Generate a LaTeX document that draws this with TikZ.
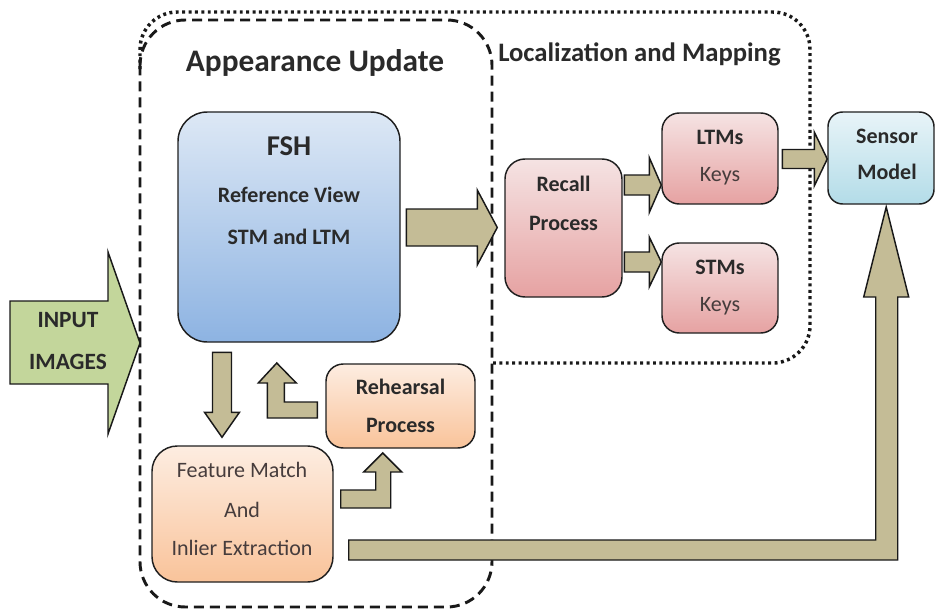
\documentclass[tikz,border=0pt]{standalone}
\usepackage{fontspec}
\setmainfont{Carlito}
\usetikzlibrary{calc}
\definecolor{fshTop}{HTML}{DDE8F5}
\definecolor{fshBot}{HTML}{8DB3E2}
\definecolor{recTop}{HTML}{F5E3E3}
\definecolor{recBot}{HTML}{E6A2A2}
\definecolor{orTop}{HTML}{FDEDE1}
\definecolor{orBot}{HTML}{F9C39A}
\definecolor{senTop}{HTML}{E8F4F8}
\definecolor{senBot}{HTML}{B3DCE8}
\definecolor{tanfill}{HTML}{C4BC96}
\definecolor{inGreen}{HTML}{C3D69B}
\definecolor{tc}{HTML}{2A2A2A}
\definecolor{tcl}{HTML}{463C3C}
\newcommand{\rblock}[5]{% tip, total length, head length, body half, head half
  \draw[blk] (#1) -- ++(-#3,-#5) -- ++(0,{#5-#4}) -- ++({-(#2-#3)},0) -- ++(0,{2*#4}) -- ++({#2-#3},0) -- ++(0,{#5-#4}) -- cycle;}
\newcommand{\dblock}[5]{% tip, total length, head length, body half, head half
  \draw[blk] (#1) -- ++(-#5,-#3) -- ++({#5-#4},0) -- ++(0,{-(#2-#3)}) -- ++({2*#4},0) -- ++(0,{#2-#3}) -- ++({#5-#4},0) -- cycle;}
\begin{document}
\begin{tikzpicture}[x=0.75pt,y=-0.75pt,
  box/.style={draw=black!88, line width=1.1pt, inner sep=0pt},
  blk/.style={sharp corners, draw=black!90, line width=1.1pt, fill=tanfill, line join=miter},
  tb/.style={font=\fontsize{16.5}{19}\selectfont\bfseries, text=tc, anchor=base, inner sep=0pt},
  tr/.style={font=\fontsize{16.5}{19}\selectfont, text=tcl, anchor=base, inner sep=0pt},
  ttl/.style={font=\fontsize{23.5}{27}\selectfont\bfseries, text=tc, anchor=base, inner sep=0pt},
  groupdash/.style={line width=2.2pt, dash pattern=on 7.5pt off 4.5pt, draw=black!90},
  groupdot/.style={line width=2.6pt, dash pattern=on 2.2pt off 2.6pt, draw=black!90}]
\useasboundingbox (0,0) rectangle (936,610);

% group outlines
\draw[groupdot, rounded corners=28pt] (493,363) -- (810,363) -- (810,12) -- (140,12) -- (140,70);
\draw[groupdash, rounded corners=34pt] (140,20) rectangle (492,607);
\node[ttl] (tApp) at (315,72) {Appearance Update};
\node[font=\fontsize{20}{24}\selectfont\bfseries, text=tc, anchor=base west, inner sep=0pt] (tLoc) at (498,62) {Localization and Mapping};

% boxes
\node[box, rounded corners=22pt, top color=fshTop, bottom color=fshBot, minimum width=166.5pt, minimum height=172.5pt] (fsh) at (289,227) {};
\node[box, rounded corners=15pt, top color=recTop, bottom color=recBot, minimum width=87.75pt, minimum height=103.5pt] (recall) at (563.5,228) {};
\node[box, rounded corners=13pt, top color=recTop, bottom color=recBot, minimum width=87pt, minimum height=68.25pt] (ltm) at (720,158.5) {};
\node[box, rounded corners=13pt, top color=recTop, bottom color=recBot, minimum width=87pt, minimum height=67.5pt] (stm) at (720,288) {};
\node[box, rounded corners=11pt, top color=senTop, bottom color=senBot, minimum width=79.5pt, minimum height=69pt] (sensor) at (881,158) {};
\node[box, rounded corners=19pt, top color=orTop, bottom color=orBot, minimum width=135.75pt, minimum height=102pt] (feat) at (242.5,514) {};
\node[box, rounded corners=13pt, top color=orTop, bottom color=orBot, minimum width=111.75pt, minimum height=63pt] (reh) at (400.5,406) {};

% box texts
\node[tb, font=\fontsize{21.5}{25}\selectfont\bfseries] (tFSH) at (289,156) {FSH};
\node[tb] (tRef) at (289,202) {Reference View};
\node[tb] (tSTM) at (289,244) {STM and LTM};
\node[tb] (tRec1) at (563.5,191) {Recall};
\node[tb] (tRec2) at (563.5,230) {Process};
\node[tb] (tLtm1) at (720,144) {LTMs};
\node[tr] (tLtm2) at (720,181) {Keys};
\node[tb] (tStm1) at (720,274) {STMs};
\node[tr] (tStm2) at (720,311) {Keys};
\node[tb] (tSen1) at (887,143) {Sensor};
\node[tb] (tSen2) at (887,180) {Model};
\node[tb] (tReh1) at (400.5,394) {Rehearsal};
\node[tb] (tReh2) at (400.5,432) {Process};
\node[tr] (tFe1) at (242,477) {Feature Match};
\node[tr] (tFe2) at (242,517) {And};
\node[tr] (tFe3) at (242,555) {Inlier Extraction};

% input arrow
\coordinate (intip) at (140,343);
\draw[sharp corners, draw=black!90, line width=1.1pt, fill=inGreen, line join=miter] (intip) -- ++(-32,-91) -- ++(0,49) -- ++(-98,0) -- ++(0,83) -- ++(98,0) -- ++(0,50) -- cycle;
\node[tb, font=\fontsize{17.5}{20}\selectfont\bfseries] (tIn1) at (68,327) {INPUT};
\node[tb, font=\fontsize{17.5}{20}\selectfont\bfseries] (tIn2) at (68,369) {IMAGES};

% block connectors
\rblock{$(recall.west)+(-7,-0.5)$}{91}{20}{18.5}{37.5}
\rblock{$(ltm.west)+(0,26.5)$}{37}{12}{10}{27.5}
\rblock{$(stm.west)+(0,-26)$}{37}{12}{10}{25}
\rblock{$(sensor.west)+(0,1)$}{45}{13}{9.5}{27}
\dblock{$(feat.north)+(-20.5,-8)$}{85}{25}{9.5}{17.5}

\draw[blk] ($(reh.west)+(-8,-4)$) -- ++(-33,0) -- ++(0,-19) -- ++(12,0) -- ++(-19.5,-20) -- ++(-18.5,20) -- ++(9,0) -- ++(0,35) -- ++(50,0) -- cycle;
\draw[blk] ($(feat.east)+(7,-24)$) -- ++(35,0) -- ++(0,-18) -- ++(-12,0) -- ++(19,-19) -- ++(19,19) -- ++(-11,0) -- ++(0,36) -- ++(-50,0) -- cycle;
\draw[blk] ($(feat.east)+(15,26)$) -- ++(527,0) -- ++(0,-243) -- ++(-12,0) -- ++(22.5,-90) -- ++(22.5,90) -- ++(-11,0) -- ++(0,263) -- ++(-549,0) -- cycle;
\end{tikzpicture}
\end{document}
